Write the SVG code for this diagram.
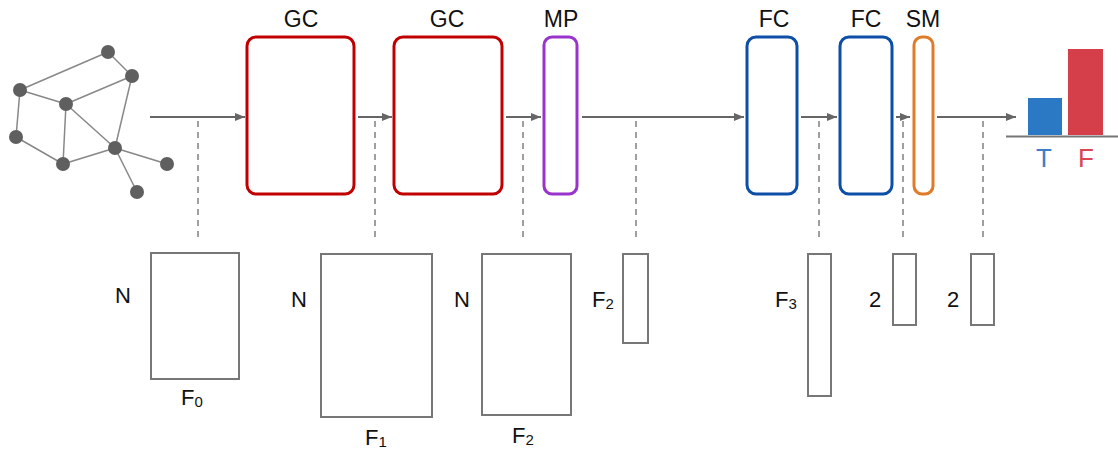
<svg xmlns="http://www.w3.org/2000/svg" width="1118" height="450" viewBox="0 0 1118 450">
<style>
  text { font-family: "Liberation Sans", Arial, sans-serif; fill: #111; }
  .hdr { font-size: 23px; text-anchor: middle; }
  .lbl { font-size: 22px; }
  .sub { font-size: 15px; }
  .edge { stroke: #888; stroke-width: 1.5; fill: none; }
  .vert { fill: #5f5f5f; }
  .arrow { stroke: #666; stroke-width: 2; fill: none; marker-end: url(#ah); }
  .dash { stroke: #888; stroke-width: 1.6; stroke-dasharray: 6 5; fill: none; }
  .mat { fill: none; stroke: #777; stroke-width: 2; }
  .layer { fill: none; stroke-width: 3; }
</style>
<defs>
  <marker id="ah" viewBox="0 0 10 8" refX="10" refY="4" markerWidth="10" markerHeight="8" markerUnits="userSpaceOnUse" orient="auto">
    <path d="M0,0 L10,4 L0,8 z" fill="#666"/>
  </marker>
</defs>
<rect width="1118" height="450" fill="#fff"/>

<g id="input-graph">
  <line class="edge" x1="20" y1="90" x2="108" y2="52"/>
  <line class="edge" x1="108" y1="52" x2="132" y2="76"/>
  <line class="edge" x1="20" y1="90" x2="66" y2="104"/>
  <line class="edge" x1="66" y1="104" x2="132" y2="76"/>
  <line class="edge" x1="20" y1="90" x2="16" y2="137"/>
  <line class="edge" x1="16" y1="137" x2="63" y2="164"/>
  <line class="edge" x1="66" y1="104" x2="63" y2="164"/>
  <line class="edge" x1="66" y1="104" x2="115" y2="148"/>
  <line class="edge" x1="132" y1="76" x2="115" y2="148"/>
  <line class="edge" x1="63" y1="164" x2="115" y2="148"/>
  <line class="edge" x1="115" y1="148" x2="167" y2="164"/>
  <line class="edge" x1="115" y1="148" x2="137" y2="192"/>
  <circle class="vert" cx="108" cy="52" r="7"/>
  <circle class="vert" cx="132" cy="76" r="7"/>
  <circle class="vert" cx="20" cy="90" r="7"/>
  <circle class="vert" cx="66" cy="104" r="7"/>
  <circle class="vert" cx="16" cy="137" r="7"/>
  <circle class="vert" cx="63" cy="164" r="7"/>
  <circle class="vert" cx="115" cy="148" r="7"/>
  <circle class="vert" cx="167" cy="164" r="7"/>
  <circle class="vert" cx="137" cy="192" r="7"/>
</g>

<g id="gc1">
  <rect class="layer" x="247" y="37" width="107" height="157" rx="9" stroke="#c00000"/>
  <text class="hdr" x="301" y="27">GC</text>
</g>
<g id="gc2">
  <rect class="layer" x="394" y="37" width="108" height="157" rx="9" stroke="#c00000"/>
  <text class="hdr" x="447" y="27">GC</text>
</g>
<g id="mp">
  <rect class="layer" x="544" y="37" width="33" height="157" rx="8" stroke="#9933cc"/>
  <text class="hdr" x="561" y="27">MP</text>
</g>
<g id="fc1">
  <rect class="layer" x="747" y="37" width="50" height="157" rx="9" stroke="#0d4ea6"/>
  <text class="hdr" x="774" y="27">FC</text>
</g>
<g id="fc2">
  <rect class="layer" x="840" y="37" width="52" height="157" rx="9" stroke="#0d4ea6"/>
  <text class="hdr" x="866" y="27">FC</text>
</g>
<g id="sm">
  <rect class="layer" x="914" y="37" width="19" height="157" rx="8" stroke="#e07b28"/>
  <text class="hdr" x="923" y="27">SM</text>
</g>

<g id="output">
  <rect x="1028" y="98" width="34" height="37" fill="#2b78c4"/>
  <rect x="1068" y="49" width="35" height="86" fill="#d43f49"/>
  <line x1="1006" y1="136.5" x2="1118" y2="136.5" stroke="#777" stroke-width="2"/>
  <text x="1044" y="167" font-size="26" text-anchor="middle" style="fill:#3a7fc8">T</text>
  <text x="1086" y="167" font-size="26" text-anchor="middle" style="fill:#d94550">F</text>
</g>

<g id="connectors">
  <line class="arrow" x1="150" y1="117" x2="245" y2="117"/>
  <line class="arrow" x1="358" y1="117" x2="392" y2="117"/>
  <line class="arrow" x1="506" y1="117" x2="541" y2="117"/>
  <line class="arrow" x1="582" y1="117" x2="744" y2="117"/>
  <line class="arrow" x1="801" y1="117" x2="837" y2="117"/>
  <line class="arrow" x1="896" y1="117" x2="910" y2="117"/>
  <line class="arrow" x1="937" y1="117" x2="1016" y2="117"/>
  <line class="dash" x1="198" y1="121" x2="198" y2="238"/>
  <line class="dash" x1="375" y1="121" x2="375" y2="238"/>
  <line class="dash" x1="523" y1="121" x2="523" y2="238"/>
  <line class="dash" x1="636" y1="121" x2="636" y2="238"/>
  <line class="dash" x1="819" y1="121" x2="819" y2="238"/>
  <line class="dash" x1="903" y1="121" x2="903" y2="238"/>
  <line class="dash" x1="983" y1="121" x2="983" y2="238"/>
</g>

<g id="m-f0">
  <rect class="mat" x="151" y="253" width="88" height="126"/>
  <text class="lbl" x="115" y="303">N</text>
  <text class="lbl" x="181" y="405">F<tspan class="sub" dy="2">0</tspan></text>
</g>
<g id="m-f1">
  <rect class="mat" x="321" y="254" width="111" height="163"/>
  <text class="lbl" x="291" y="307">N</text>
  <text class="lbl" x="365" y="445">F<tspan class="sub" dy="2">1</tspan></text>
</g>
<g id="m-f2">
  <rect class="mat" x="482" y="254" width="89" height="161"/>
  <text class="lbl" x="454" y="307">N</text>
  <text class="lbl" x="512" y="443">F<tspan class="sub" dy="2">2</tspan></text>
</g>
<g id="v-f2">
  <rect class="mat" x="623" y="254" width="25" height="89"/>
  <text class="lbl" x="592" y="307">F<tspan class="sub" dy="2">2</tspan></text>
</g>
<g id="v-f3">
  <rect class="mat" x="808" y="254" width="23" height="142"/>
  <text class="lbl" x="775" y="307">F<tspan class="sub" dy="2">3</tspan></text>
</g>
<g id="v-2a">
  <rect class="mat" x="893" y="254" width="23" height="71"/>
  <text class="lbl" x="869" y="307">2</text>
</g>
<g id="v-2b">
  <rect class="mat" x="971" y="254" width="23" height="71"/>
  <text class="lbl" x="947" y="307">2</text>
</g>
</svg>
